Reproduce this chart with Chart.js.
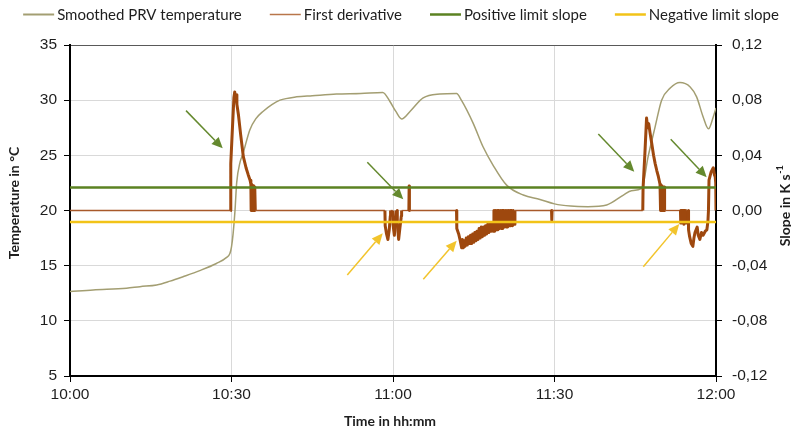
<!DOCTYPE html>
<html><head><meta charset="utf-8">
<script src="https://cdn.jsdelivr.net/npm/chart.js@4"></script>
<style>html,body{margin:0;padding:0;background:#fff}canvas{display:block}</style>
</head><body>
<canvas id="c" width="791" height="429"></canvas>
<script>
// ---- data ----
const seriesNames = ['Smoothed PRV temperature', 'First derivative', 'Positive limit slope', 'Negative limit slope'];
const xTickMinutes = [0, 30, 60, 90, 120];
const xTickLabels = ['10:00', '10:30', '11:00', '11:30', '12:00'];
const rightTickLabels = ['-0,12', '-0,08', '-0,04', '0,00', '0,04', '0,08', '0,12'];
const xTitle = 'Time in hh:mm';
const leftTitle = 'Temperature in °C';
const rightTitle = 'Slope in K s';
const rightTitleSup = '-1';

// minutes after 10:00, °C
const temperature = [
  [0,12.65],[4.3,12.8],[10.5,12.95],[13,13.1],[16.1,13.25],[18.6,13.6],[21,14.0],[24.1,14.55],
  [27.2,15.2],[29.1,15.75],[29.7,16.1],[30.0,16.7],[30.3,17.9],[30.65,20.0],[30.96,22.5],
  [31.6,24.4],[32.1,25.1],[33.4,27.3],[34.5,28.3],[35.9,29.0],[37.5,29.6],[39,30.0],[42.1,30.3],
  [45,30.4],[49.5,30.55],[54,30.6],[58.1,30.7],[59.4,29.9],[60.5,29.0],[61.6,28.3],[63.2,29.0],
  [65.6,30.2],[68.7,30.55],[71.8,30.6],[72.7,30.0],[74.9,27.9],[76.7,25.8],[78.6,24.1],[81.1,22.3],
  [84.2,21.4],[87.3,21.0],[90,20.6],[93,20.4],[96.2,20.35],[99.7,20.5],[102.8,21.4],[104.3,21.8],
  [106.2,22.0],[107.4,24.9],[108.7,27.6],[109.9,30.0],[111.5,31.1],[113.3,31.6],[115.2,31.2],
  [116.4,30.3],[117.6,28.5],[118.6,27.4],[119.5,28.5],[120,29.3]
];

// minutes after 10:00, K/s
const derivative = [
  [0,0],[29.8,0],
  [29.83,0.018],[29.9,0.034],[30.2,0.062],[30.45,0.082],[30.6,0.086],[30.72,0.081],[30.85,0.084],[31.0,0.077],
  [31.3,0.069],[31.7,0.055],[32.2,0.039],[32.7,0.031],[33.1,0.026],[33.45,0.022],[33.6,0.019],
  [33.65,0],[33.72,0.019],[33.8,0],[33.88,0.018],[33.96,0],[34.04,0.018],[34.12,0],[34.2,0.017],[34.28,0],[34.36,0.017],[34.42,0],
  [58.5,0],[58.55,-0.011],[58.8,-0.017],[59.05,-0.021],[59.3,-0.014],[59.5,-0.004],[59.55,0],
  [59.95,0],[60.0,-0.01],[60.25,-0.018],[60.45,-0.009],[60.6,0],
  [60.75,0],[60.8,-0.01],[61.05,-0.021],[61.3,-0.012],[61.55,-0.004],[61.6,0],
  [62.95,0],[63.0,0.0178],[63.05,0],
  [71.8,0],[71.85,-0.013],[72.2,-0.017],[72.5,-0.022],[72.75,-0.027],[72.9,-0.021],[73.05,-0.027],[73.2,-0.022],
  [73.4,-0.026],[73.6,-0.02],[73.8,-0.025],[74.0,-0.019],[74.2,-0.024],[74.4,-0.018],[74.6,-0.024],[74.8,-0.017],
  [75.0,-0.023],[75.2,-0.016],[75.4,-0.022],[75.6,-0.015],[75.8,-0.021],[76.0,-0.013],[76.2,-0.02],[76.4,-0.012],
  [76.6,-0.019],[76.8,-0.012],[77.0,-0.018],[77.2,-0.011],[77.4,-0.017],[77.6,-0.01],[77.8,-0.016],[78.0,-0.01],
  [78.2,-0.015],[78.4,-0.009],[78.6,-0.015],
  [78.75,0],[78.9,-0.015],[79.05,0],[79.2,-0.014],[79.35,0],[79.5,-0.014],[79.65,0],[79.8,-0.013],[79.95,0],
  [80.1,-0.013],[80.25,0],[80.4,-0.013],[80.55,0],[80.7,-0.012],[80.85,0],[81.0,-0.012],[81.15,0],[81.3,-0.012],
  [81.45,0],[81.6,-0.011],[81.75,0],[81.9,-0.011],[82.05,0],[82.2,-0.011],[82.35,0],[82.5,-0.01],[82.65,0],
  [89.45,0],[89.5,-0.007],[89.55,0],
  [106.4,0],[106.45,0.016],[106.8,0.042],[107.1,0.067],[107.3,0.06],[107.5,0.063],[107.8,0.055],[108.05,0.049],
  [108.4,0.04],[108.7,0.034],[109.0,0.029],[109.3,0.0245],[109.6,0.019],
  [109.65,0],[109.75,0.018],[109.85,0],[109.95,0.018],[110.05,0],[110.15,0.017],[110.25,0],[110.35,0.017],[110.45,0],
  [113.4,0],[113.45,-0.009],[113.55,0],[113.65,-0.009],[113.75,0],[113.85,-0.009],[113.95,0],[114.05,-0.01],
  [114.15,0],[114.25,-0.009],[114.35,0],[114.45,-0.009],[114.5,0],
  [114.85,0],[114.9,-0.014],[115.1,-0.019],[115.4,-0.024],[115.7,-0.026],[115.9,-0.02],[116.1,-0.016],[116.3,-0.014],
  [116.5,-0.012],[116.7,-0.018],[117.0,-0.021],[117.3,-0.016],[117.6,-0.018],[118.0,-0.015],[118.3,-0.014],[118.5,-0.008],[118.6,0],
  [118.7,0.022],[119.1,0.028],[119.5,0.031],[119.7,0.026],[119.85,0.0245],[119.95,0.02],[120,0]
];

const positiveLimit = 0.0167;
const negativeLimit = -0.0083;
const limitSpan = [0, 120];

// annotation arrows: [minutes, °C] on the left axis
const arrows = [
  {kind:'pos', from:[21.55,29.05], to:[28.37,25.64]},
  {kind:'pos', from:[55.23,24.37], to:[61.91,21.01]},
  {kind:'pos', from:[98.14,26.93], to:[104.82,23.52]},
  {kind:'pos', from:[111.59,26.45], to:[118.27,23.01]},
  {kind:'neg', from:[51.51,14.15], to:[58.09,17.93]},
  {kind:'neg', from:[65.63,13.76], to:[71.83,17.26]},
  {kind:'neg', from:[106.5,14.91], to:[113.18,18.78]}
];

// ---- styling ----
const COL_TEMP = '#A39E72', COL_DER = '#9E480E', COL_POS = '#5B8222', COL_NEG = '#F2C318';
const ARROW_COL = {pos:'#64892E', neg:'#F2C42C'};
const TEXT = '#1e1e1e';
const tickFont = {family:"'Liberation Sans', Arial, sans-serif", size:15.5};
const toXY = arr => arr.map(p => ({x:p[0], y:p[1]}));

const decor = {
  id:'decor',
  afterDatasetsDraw(chart){
    const {ctx, scales:{x, y}} = chart;
    ctx.save();
    arrows.forEach(a => {
      const x0 = x.getPixelForValue(a.from[0]), y0 = y.getPixelForValue(a.from[1]);
      const x1 = x.getPixelForValue(a.to[0]), y1 = y.getPixelForValue(a.to[1]);
      const ang = Math.atan2(y1-y0, x1-x0), hl = 11, hw = 5;
      const bx = x1 - hl*Math.cos(ang), by = y1 - hl*Math.sin(ang);
      ctx.strokeStyle = ARROW_COL[a.kind]; ctx.fillStyle = ARROW_COL[a.kind]; ctx.lineWidth = 1.5;
      ctx.beginPath(); ctx.moveTo(x0,y0); ctx.lineTo(bx,by); ctx.stroke();
      ctx.beginPath(); ctx.moveTo(x1,y1);
      ctx.lineTo(bx + hw*Math.sin(ang), by - hw*Math.cos(ang));
      ctx.lineTo(bx - hw*Math.sin(ang), by + hw*Math.cos(ang));
      ctx.closePath(); ctx.fill();
    });
    ctx.restore();
  },
  afterDraw(chart){
    const ctx = chart.ctx;
    ctx.save();
    // legend
    ctx.font = '15px Lato';
    ctx.textBaseline = 'middle'; ctx.textAlign = 'left';
    const items = chart.data.datasets.map(d => ({text:d.label, color:d.legendColor || d.borderColor, w:d.legendLineWidth}));
    const lineLen = 31, gapText = 3, gapItem = 28;
    let total = 0;
    items.forEach((it,i) => { it.tw = ctx.measureText(it.text).width; total += lineLen + gapText + it.tw + (i ? gapItem : 0); });
    let cx = 401 - total/2; const ly = 14.5;
    items.forEach(it => {
      ctx.strokeStyle = it.color; ctx.lineWidth = it.w;
      ctx.beginPath(); ctx.moveTo(cx, ly); ctx.lineTo(cx+lineLen, ly); ctx.stroke();
      ctx.fillStyle = TEXT; ctx.fillText(it.text, cx + lineLen + gapText, ly + 0.5);
      cx += lineLen + gapText + it.tw + gapItem;
    });
    // axis titles
    ctx.fillStyle = TEXT;
    ctx.font = 'bold 14px Lato';
    ctx.textAlign = 'center';
    ctx.fillText(xTitle, 390, 421);
    ctx.save(); ctx.translate(14, 203); ctx.rotate(-Math.PI/2); ctx.fillText(leftTitle, 0, 0); ctx.restore();
    ctx.save(); ctx.translate(785.5, 206); ctx.rotate(-Math.PI/2);
    ctx.textAlign = 'left';
    const w1 = ctx.measureText(rightTitle).width;
    ctx.font = 'bold 9px Lato';
    const w2 = ctx.measureText(rightTitleSup).width;
    const start = -(w1 + w2)/2;
    ctx.font = 'bold 14px Lato';
    ctx.fillText(rightTitle, start, 0);
    ctx.font = 'bold 9px Lato';
    ctx.fillText(rightTitleSup, start + w1 + 0.5, -5);
    ctx.restore();
    ctx.restore();
  }
};

new Chart(document.getElementById('c'), {
  type:'line',
  data:{datasets:[
    {label:seriesNames[0], data:toXY(temperature), yAxisID:'y', borderColor:COL_TEMP, borderWidth:1.5, legendLineWidth:2, order:3,
      cubicInterpolationMode:'monotone'},
    {label:seriesNames[1], data:toXY(derivative), yAxisID:'y1', borderColor:COL_DER, borderWidth:1.5, legendLineWidth:1.5, legendColor:'#B8764A', order:2,
      segment:{
        borderWidth: c => (c.p0.parsed.y === 0 && c.p1.parsed.y === 0) ? 1.3 : 3,
        borderColor: c => (c.p0.parsed.y === 0 && c.p1.parsed.y === 0) ? '#A8592A' : COL_DER
      }},
    {label:seriesNames[2], data:limitSpan.map(x => ({x, y:positiveLimit})), yAxisID:'y1', borderColor:COL_POS, borderWidth:2.5, legendLineWidth:2.5, order:1},
    {label:seriesNames[3], data:limitSpan.map(x => ({x, y:negativeLimit})), yAxisID:'y1', borderColor:COL_NEG, borderWidth:2.5, legendLineWidth:2.5, order:0}
  ]},
  options:{
    responsive:false, animation:false, devicePixelRatio:1,
    elements:{point:{radius:0}, line:{tension:0, borderJoinStyle:'round'}},
    layout:{padding:{top:45, left:0, right:0, bottom:0}},
    plugins:{legend:{display:false}, tooltip:{enabled:false}},
    scales:{
      x:{type:'linear', position:'bottom', min:0, max:120,
        afterFit: s => { s.height = 53; },
        ticks:{stepSize:30, autoSkip:false, maxRotation:0, font:tickFont, color:TEXT, padding:3,
          callback: v => { const i = xTickMinutes.indexOf(v); return i < 0 ? '' : xTickLabels[i]; }},
        grid:{color: c => (c.tick && c.tick.value > 0 && c.tick.value < 120) ? '#d9d9d9' : 'rgba(0,0,0,0)', tickColor:'#000', tickLength:6, lineWidth:1},
        border:{display:true, color:'#000', width:2}},
      y:{position:'left', min:5, max:35,
        afterFit: s => { s.width = 70; },
        ticks:{stepSize:5, font:tickFont, color:TEXT, padding:7},
        grid:{color: c => !c.tick ? '#d9d9d9' : (c.tick.value === 35 ? '#595959' : (c.tick.value === 5 ? 'rgba(0,0,0,0)' : '#d9d9d9')), tickColor:'#000', tickLength:6, lineWidth:1},
        border:{display:true, color:'#000', width:2}},
      y1:{position:'right', min:-0.12, max:0.12,
        afterFit: s => { s.width = 75; },
        ticks:{stepSize:0.04, font:tickFont, color:TEXT, padding:10,
          callback: v => { const i = Math.round((v + 0.12)/0.04); return rightTickLabels[i] ?? ''; }},
        grid:{drawOnChartArea:false, tickColor:'#000', tickLength:6},
        border:{display:true, color:'#000', width:2}}
    }
  },
  plugins:[decor]
});
</script>
</body></html>
